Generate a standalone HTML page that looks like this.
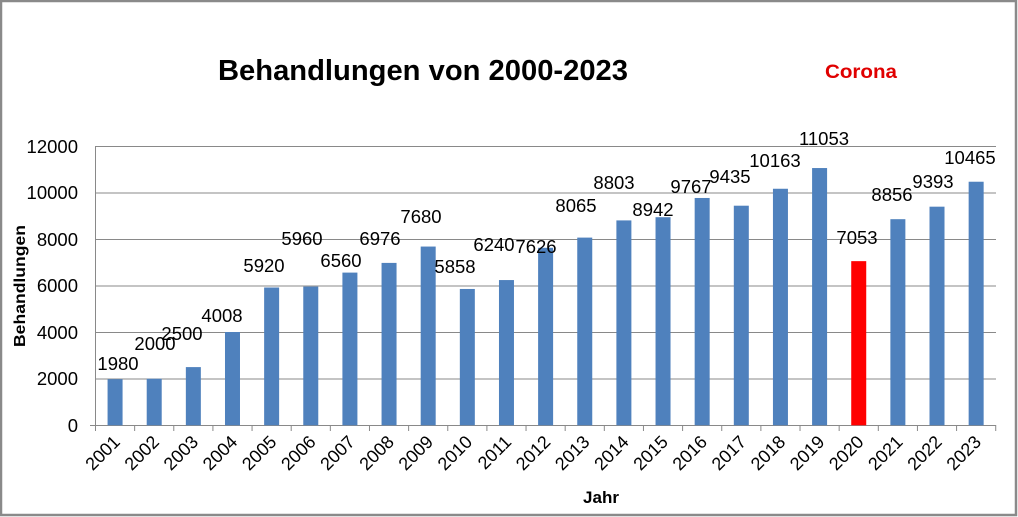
<!DOCTYPE html>
<html><head><meta charset="utf-8"><style>body{margin:0;background:#fff}svg{display:block}</style></head><body>
<svg width="1018" height="517" xmlns="http://www.w3.org/2000/svg" font-family="Liberation Sans, sans-serif">
<rect x="1" y="1" width="1015" height="514" fill="#fff" stroke="#8a8a8a" stroke-width="2.5"/>
<text x="218" y="80" font-size="29" font-weight="bold" textLength="410" lengthAdjust="spacingAndGlyphs">Behandlungen von 2000-2023</text>
<text x="825" y="78" font-size="19" font-weight="bold" fill="#e00000" textLength="72" lengthAdjust="spacingAndGlyphs">Corona</text>
<g stroke="#898989" stroke-width="1">
<line x1="95.5" y1="146.5" x2="996" y2="146.5"/><line x1="95.5" y1="193" x2="996" y2="193"/><line x1="95.5" y1="239.5" x2="996" y2="239.5"/><line x1="95.5" y1="286" x2="996" y2="286"/><line x1="95.5" y1="332.5" x2="996" y2="332.5"/><line x1="95.5" y1="379" x2="996" y2="379"/>
<line x1="95.5" y1="146" x2="95.5" y2="426"/><line x1="90" y1="425.5" x2="996" y2="425.5"/>
<line x1="95.5" y1="425" x2="95.5" y2="431"/><line x1="134.64" y1="425" x2="134.64" y2="431"/><line x1="173.78" y1="425" x2="173.78" y2="431"/><line x1="212.92" y1="425" x2="212.92" y2="431"/><line x1="252.06" y1="425" x2="252.06" y2="431"/><line x1="291.2" y1="425" x2="291.2" y2="431"/><line x1="330.34" y1="425" x2="330.34" y2="431"/><line x1="369.48" y1="425" x2="369.48" y2="431"/><line x1="408.62" y1="425" x2="408.62" y2="431"/><line x1="447.76" y1="425" x2="447.76" y2="431"/><line x1="486.9" y1="425" x2="486.9" y2="431"/><line x1="526.04" y1="425" x2="526.04" y2="431"/><line x1="565.18" y1="425" x2="565.18" y2="431"/><line x1="604.32" y1="425" x2="604.32" y2="431"/><line x1="643.46" y1="425" x2="643.46" y2="431"/><line x1="682.6" y1="425" x2="682.6" y2="431"/><line x1="721.74" y1="425" x2="721.74" y2="431"/><line x1="760.88" y1="425" x2="760.88" y2="431"/><line x1="800.02" y1="425" x2="800.02" y2="431"/><line x1="839.16" y1="425" x2="839.16" y2="431"/><line x1="878.3" y1="425" x2="878.3" y2="431"/><line x1="917.44" y1="425" x2="917.44" y2="431"/><line x1="956.58" y1="425" x2="956.58" y2="431"/><line x1="995.72" y1="425" x2="995.72" y2="431"/>
</g>
<g font-size="18.5" text-anchor="end">
<text x="78" y="153">12000</text><text x="78" y="199">10000</text><text x="78" y="246">8000</text><text x="78" y="292">6000</text><text x="78" y="339">4000</text><text x="78" y="385">2000</text><text x="78" y="432">0</text>
</g>
<text transform="translate(25,286) rotate(-90)" font-size="16" font-weight="bold" text-anchor="middle" textLength="122" lengthAdjust="spacingAndGlyphs">Behandlungen</text>
<text x="601" y="503" font-size="17" font-weight="bold" text-anchor="middle">Jahr</text>
<g fill="#4f81bd">
<rect x="107.57" y="379.2" width="15" height="46.1"/>
<rect x="146.71" y="378.75" width="15" height="46.55"/>
<rect x="185.85" y="367.1" width="15" height="58.2"/>
<rect x="224.99" y="332.0" width="15" height="93.3"/>
<rect x="264.13" y="287.5" width="15" height="137.8"/>
<rect x="303.27" y="286.6" width="15" height="138.7"/>
<rect x="342.41" y="272.6" width="15" height="152.7"/>
<rect x="381.55" y="262.9" width="15" height="162.4"/>
<rect x="420.69" y="246.55" width="15" height="178.75"/>
<rect x="459.83" y="288.96" width="15" height="136.34"/>
<rect x="498.97" y="280.06" width="15" height="145.24"/>
<rect x="538.11" y="247.8" width="15" height="177.5"/>
<rect x="577.25" y="237.6" width="15" height="187.7"/>
<rect x="616.39" y="220.4" width="15" height="204.9"/>
<rect x="655.53" y="217.2" width="15" height="208.1"/>
<rect x="694.67" y="197.97" width="15" height="227.33"/>
<rect x="733.81" y="205.7" width="15" height="219.6"/>
<rect x="772.95" y="188.76" width="15" height="236.54"/>
<rect x="812.09" y="168.04" width="15" height="257.26"/>
<rect x="851.23" y="261.14" width="15" height="164.16" fill="#ff0000"/>
<rect x="890.37" y="219.18" width="15" height="206.12"/>
<rect x="929.51" y="206.68" width="15" height="218.62"/>
<rect x="968.65" y="181.73" width="15" height="243.57"/>
</g>
<g font-size="18.5" text-anchor="middle">
<text x="118" y="370">1980</text><text x="155" y="350">2000</text><text x="182" y="340">2500</text><text x="222" y="322">4008</text><text x="264" y="272">5920</text><text x="302" y="245">5960</text><text x="341" y="267">6560</text><text x="380" y="245">6976</text><text x="421" y="223">7680</text><text x="455" y="273">5858</text><text x="494" y="251">6240</text><text x="536" y="253">7626</text><text x="576" y="212">8065</text><text x="614" y="189">8803</text><text x="653" y="216">8942</text><text x="691" y="193">9767</text><text x="730" y="183">9435</text><text x="775" y="167">10163</text><text x="824" y="145">11053</text><text x="857" y="244">7053</text><text x="892" y="201">8856</text><text x="933" y="188">9393</text><text x="970" y="164">10465</text>
</g>
<g font-size="18" text-anchor="end">
<text transform="translate(121.07,443) rotate(-45)">2001</text>
<text transform="translate(160.21,443) rotate(-45)">2002</text>
<text transform="translate(199.35,443) rotate(-45)">2003</text>
<text transform="translate(238.49,443) rotate(-45)">2004</text>
<text transform="translate(277.63,443) rotate(-45)">2005</text>
<text transform="translate(316.77,443) rotate(-45)">2006</text>
<text transform="translate(355.91,443) rotate(-45)">2007</text>
<text transform="translate(395.05,443) rotate(-45)">2008</text>
<text transform="translate(434.19,443) rotate(-45)">2009</text>
<text transform="translate(473.33,443) rotate(-45)">2010</text>
<text transform="translate(512.47,443) rotate(-45)">2011</text>
<text transform="translate(551.61,443) rotate(-45)">2012</text>
<text transform="translate(590.75,443) rotate(-45)">2013</text>
<text transform="translate(629.89,443) rotate(-45)">2014</text>
<text transform="translate(669.03,443) rotate(-45)">2015</text>
<text transform="translate(708.17,443) rotate(-45)">2016</text>
<text transform="translate(747.31,443) rotate(-45)">2017</text>
<text transform="translate(786.45,443) rotate(-45)">2018</text>
<text transform="translate(825.59,443) rotate(-45)">2019</text>
<text transform="translate(864.73,443) rotate(-45)">2020</text>
<text transform="translate(903.87,443) rotate(-45)">2021</text>
<text transform="translate(943.01,443) rotate(-45)">2022</text>
<text transform="translate(982.15,443) rotate(-45)">2023</text>
</g>
</svg>
</body></html>
